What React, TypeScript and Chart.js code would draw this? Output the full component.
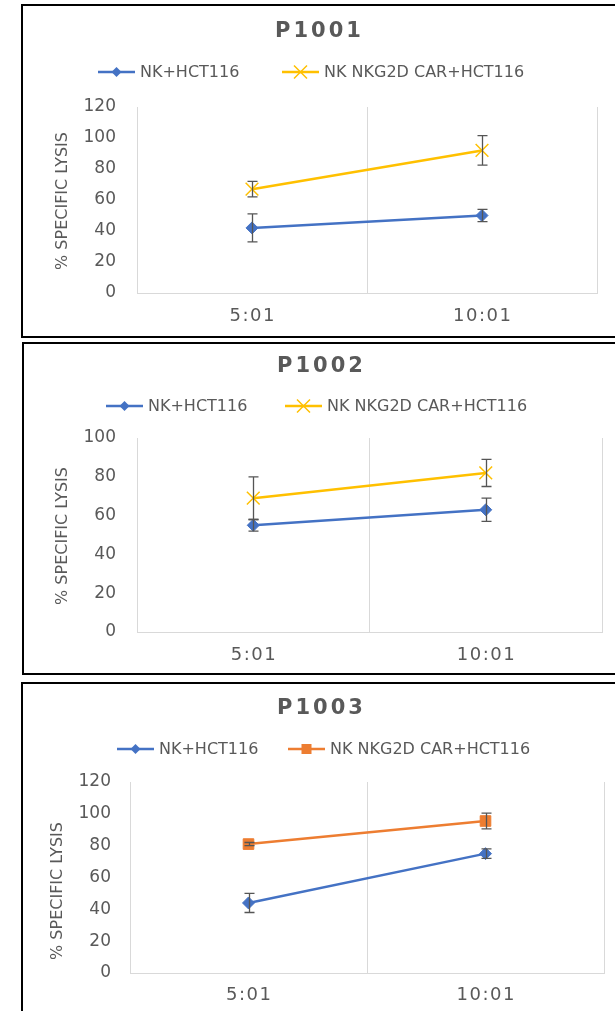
import React, { useEffect, useRef } from 'react';
import { Chart, registerables } from 'chart.js';

Chart.register(...registerables);

// ---------- data ----------
const CATEGORIES = ['5:01', '10:01'];
const SERIES_NAMES = ['NK+HCT116', 'NK NKG2D CAR+HCT116'];
const Y_TITLE = '% SPECIFIC LYSIS';
const TITLES = ['P1001', 'P1002', 'P1003'];

const P1001_NK = [42, 50];
const P1001_NK_ERR = [9, 4];
const P1001_CAR = [67, 92];
const P1001_CAR_ERR = [5, 9.5];

const P1002_NK = [55, 63];
const P1002_NK_ERR = [3, 6];
const P1002_CAR = [69, 82];
const P1002_CAR_ERR = [11, 7];

const P1003_NK = [44, 75];
const P1003_NK_ERR = [6, 3];
const P1003_CAR = [81, 95.5];
const P1003_CAR_ERR = [1, 5];

const Y_MAX = [120, 100, 120];
const Y_STEP = 20;

// ---------- styles ----------
const BLUE = '#4472C4';
const YELLOW = '#FFC000';
const ORANGE = '#ED7D31';
const TEXT = '#595959';
const GRID = '#d9d9d9';
const ERR = '#555555';
const FONT = "'DejaVu Sans'";

type Layout = {
  top: number; height: number; borderLeft: number;
  plotTop: number; plotBottom: number; plotLeft: number; plotRight: number;
  titleX: number; titleY: number; legendY: number; legendX: number[];
  yTitleX: number; yTitleY: number; tickRight: number; xLabelOffset: number;
};

const PANELS = [
  {
    title: TITLES[0], nk: P1001_NK, nkErr: P1001_NK_ERR, car: P1001_CAR, carErr: P1001_CAR_ERR,
    carColor: YELLOW, carStyle: 'cross', yMax: Y_MAX[0],
    layout: { top: 4, height: 334, borderLeft: 21, plotTop: 103, plotBottom: 289, plotLeft: 137, plotRight: 597,
      titleX: 318, titleY: 28, legendY: 68, legendX: [98, 282], yTitleX: 63, yTitleY: 197, tickRight: 116, xLabelOffset: 23 } as Layout,
  },
  {
    title: TITLES[1], nk: P1002_NK, nkErr: P1002_NK_ERR, car: P1002_CAR, carErr: P1002_CAR_ERR,
    carColor: YELLOW, carStyle: 'cross', yMax: Y_MAX[1],
    layout: { top: 342, height: 333, borderLeft: 22, plotTop: 96, plotBottom: 290, plotLeft: 137, plotRight: 602,
      titleX: 320, titleY: 25, legendY: 64, legendX: [106, 285], yTitleX: 63, yTitleY: 194, tickRight: 116, xLabelOffset: 23 } as Layout,
  },
  {
    title: TITLES[2], nk: P1003_NK, nkErr: P1003_NK_ERR, car: P1003_CAR, carErr: P1003_CAR_ERR,
    carColor: ORANGE, carStyle: 'square', yMax: Y_MAX[2],
    layout: { top: 682, height: 340, borderLeft: 21, plotTop: 100, plotBottom: 291, plotLeft: 130, plotRight: 604,
      titleX: 320, titleY: 27, legendY: 67, legendX: [117, 288], yTitleX: 58, yTitleY: 209, tickRight: 111, xLabelOffset: 22 } as Layout,
  },
];

function drawMarker(ctx: CanvasRenderingContext2D, style: string, x: number, y: number, color: string) {
  ctx.save();
  ctx.fillStyle = color;
  ctx.strokeStyle = color;
  if (style === 'diamond') {
    ctx.beginPath();
    ctx.moveTo(x, y - 5);
    ctx.lineTo(x + 5, y);
    ctx.lineTo(x, y + 5);
    ctx.lineTo(x - 5, y);
    ctx.closePath();
    ctx.fill();
  } else if (style === 'cross') {
    ctx.lineWidth = 1.5;
    ctx.beginPath();
    ctx.moveTo(x - 6.5, y - 6.5); ctx.lineTo(x + 6.5, y + 6.5);
    ctx.moveTo(x + 6.5, y - 6.5); ctx.lineTo(x - 6.5, y + 6.5);
    ctx.stroke();
  } else {
    ctx.fillRect(x - 5, y - 5, 10, 10);
  }
  ctx.restore();
}

function Panel({ cfg }: { cfg: any }) {
  const ref = useRef<HTMLCanvasElement>(null);
  const L: Layout = cfg.layout;

  useEffect(() => {
    const canvas = ref.current;
    if (!canvas) return;

    const overlay = {
      id: 'overlay',
      afterDatasetsDraw(chart: any) {
        const ctx = chart.ctx as CanvasRenderingContext2D;
        const yScale = chart.scales.y;
        ctx.save();
        ctx.strokeStyle = ERR;
        ctx.lineWidth = 1.3;
        chart.data.datasets.forEach((ds: any, di: number) => {
          const meta = chart.getDatasetMeta(di);
          (ds.errors || []).forEach((e: number, i: number) => {
            const pt = meta.data[i];
            const v = ds.data[i];
            const yTop = yScale.getPixelForValue(v + e);
            const yBot = yScale.getPixelForValue(v - e);
            const x = Math.round(pt.x) + 0.5;
            ctx.beginPath();
            ctx.moveTo(x, yTop); ctx.lineTo(x, yBot);
            ctx.moveTo(x - 5, yTop); ctx.lineTo(x + 5, yTop);
            ctx.moveTo(x - 5, yBot); ctx.lineTo(x + 5, yBot);
            ctx.stroke();
          });
        });
        ctx.restore();
      },
      afterDraw(chart: any) {
        const ctx = chart.ctx as CanvasRenderingContext2D;
        const area = chart.chartArea;
        // Title
        ctx.save();
        ctx.fillStyle = TEXT;
        ctx.font = `bold 21px ${FONT}`;
        (ctx as any).letterSpacing = '3px';
        ctx.textBaseline = 'middle';
        ctx.textAlign = 'left';
        const tw = ctx.measureText(cfg.title).width - 3;
        ctx.fillText(cfg.title, L.titleX - tw / 2, L.titleY);
        ctx.restore();

        // Y axis title
        ctx.save();
        ctx.fillStyle = TEXT;
        ctx.font = `16px ${FONT}`;
        ctx.textBaseline = 'middle';
        ctx.textAlign = 'center';
        ctx.translate(L.yTitleX, L.yTitleY);
        ctx.rotate(-Math.PI / 2);
        ctx.fillText(Y_TITLE, 0, 0);
        ctx.restore();

        // Legend
        ctx.save();
        ctx.font = `16px ${FONT}`;
        ctx.textBaseline = 'middle';
        ctx.textAlign = 'left';
        chart.data.datasets.forEach((ds: any, di: number) => {
          const x0 = L.legendX[di];
          const y = L.legendY;
          ctx.strokeStyle = ds.borderColor;
          ctx.lineWidth = 2.5;
          ctx.beginPath();
          ctx.moveTo(x0, y); ctx.lineTo(x0 + 37, y);
          ctx.stroke();
          drawMarker(ctx, ds.legendMarker, x0 + 18.5, y, ds.borderColor);
          ctx.fillStyle = TEXT;
          ctx.fillText(ds.label, x0 + 42, y + 1);
        });
        ctx.restore();

        // X labels
        const xs = chart.scales.x;
        ctx.save();
        ctx.fillStyle = TEXT;
        ctx.font = `18px ${FONT}`;
        (ctx as any).letterSpacing = '1.5px';
        ctx.textBaseline = 'middle';
        ctx.textAlign = 'left';
        xs.ticks.forEach((t: any, i: number) => {
          const label = String(xs.getLabelForValue(t.value));
          const w = ctx.measureText(label).width - 1.5;
          ctx.fillText(label, xs.getPixelForTick(i) - w / 2, area.bottom + L.xLabelOffset);
        });
        ctx.restore();
      },
    };

    const isCross = cfg.carStyle === 'cross';
    const chart = new Chart(canvas, {
      type: 'line',
      data: {
        labels: CATEGORIES,
        datasets: [
          {
            label: SERIES_NAMES[0], data: cfg.nk, errors: cfg.nkErr, legendMarker: 'diamond',
            borderColor: BLUE, backgroundColor: BLUE, borderWidth: 2.5, tension: 0,
            pointStyle: 'rectRot', pointRadius: 6, pointBorderWidth: 1,
            pointBackgroundColor: BLUE, pointBorderColor: BLUE,
          } as any,
          {
            label: SERIES_NAMES[1], data: cfg.car, errors: cfg.carErr, legendMarker: cfg.carStyle,
            borderColor: cfg.carColor, backgroundColor: cfg.carColor, borderWidth: 2.5, tension: 0,
            pointStyle: isCross ? 'crossRot' : 'rect', pointRadius: isCross ? 9 : 7.5,
            pointBorderWidth: isCross ? 1.5 : 1,
            pointBackgroundColor: cfg.carColor, pointBorderColor: cfg.carColor,
          } as any,
        ],
      },
      options: {
        responsive: false,
        animation: false,
        events: [],
        layout: { padding: { top: L.plotTop, right: 615 - L.plotRight, left: 0, bottom: 0 } },
        plugins: { legend: { display: false }, title: { display: false }, tooltip: { enabled: false } },
        scales: {
          x: {
            type: 'category',
            offset: true,
            grid: { offset: true, color: GRID, drawTicks: false, lineWidth: 1 },
            border: { display: true, color: GRID },
            ticks: { display: false },
            afterFit: (s: any) => { s.height = L.height - L.plotBottom; },
          },
          y: {
            min: 0,
            max: cfg.yMax,
            ticks: { stepSize: Y_STEP, padding: L.plotLeft - L.tickRight, color: TEXT, font: { family: FONT, size: 17 } },
            grid: { display: false, drawTicks: false },
            border: { display: true, color: GRID },
            title: { display: false },
            afterFit: (s: any) => { s.width = L.plotLeft; },
          },
        },
      } as any,
      plugins: [overlay],
    });
    return () => chart.destroy();
  }, []);

  return (
    <>
      <canvas
        ref={ref}
        width={615}
        height={L.height}
        style={{ position: 'absolute', left: 0, top: L.top, width: 615, height: L.height, display: 'block' }}
      />
      <div
        style={{
          position: 'absolute', left: L.borderLeft, top: L.top, width: 700, height: L.height,
          boxSizing: 'border-box', borderLeft: '2px solid #000', borderTop: '2px solid #000',
          borderBottom: '2px solid #000', pointerEvents: 'none',
        }}
      />
    </>
  );
}

export default function App() {
  return (
    <div style={{ position: 'absolute', left: 0, top: 0, width: 615, height: 1011, overflow: 'hidden', background: '#fff' }}>
      {PANELS.map((p) => (
        <Panel key={p.title} cfg={p} />
      ))}
    </div>
  );
}
